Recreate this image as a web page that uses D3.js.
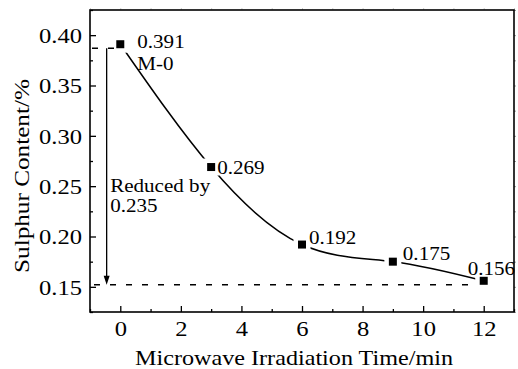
<!DOCTYPE html>
<html><head><meta charset="utf-8">
<script src="https://cdn.jsdelivr.net/npm/d3@7"></script>
<style>body{margin:0;background:#fff}</style></head>
<body>
<svg id="c" width="518" height="369"></svg>
<script>
// ---- data ----
const times   = [0, 3, 6, 9, 12];
const sulphur = [0.391, 0.269, 0.192, 0.175, 0.156];
const pointLabels = ["0.391", "0.269", "0.192", "0.175", "0.156"];
const xTicks = [0, 2, 4, 6, 8, 10, 12];
const xMinor = [-1, 1, 3, 5, 7, 9, 11, 13];
const yTicks = [0.15, 0.20, 0.25, 0.30, 0.35, 0.40];
const yMinor = [0.125, 0.175, 0.225, 0.275, 0.325, 0.375, 0.425];
const refTop = 0.387, refBottom = 0.152, arrowX = -0.45;
const sampleName = "M-0";
const noteLines = ["Reduced by", "0.235"];
const xTitle = "Microwave Irradiation Time/min";
const yTitle = "Sulphur Content/%";

// ---- layout ----
const svg = d3.select("#c");
const L = 90, R = 514, T = 10, B = 312;
const x = d3.scaleLinear().domain([-1, 13]).range([L, R]);
const y = d3.scaleLinear().domain([0.125, 0.425]).range([B, T]);
const FONT = '"Liberation Serif", "Times New Roman", serif';
const SX = 1.17;
function stretch(sel) {
  sel.each(function () {
    const w = this.getComputedTextLength();
    this.setAttribute("textLength", w * SX);
    this.setAttribute("lengthAdjust", "spacingAndGlyphs");
  });
}

// axes
const gx = svg.append("g").attr("transform", `translate(0,${B})`)
  .call(d3.axisBottom(x).tickValues(xTicks).tickFormat(d3.format("d"))
    .tickSizeInner(-6).tickSizeOuter(0).tickPadding(10));
gx.select(".domain").remove();
gx.selectAll("line").attr("stroke", "#000").attr("stroke-width", 1.3);
gx.selectAll("text").style("font-family", FONT).attr("font-size", 21)
  .attr("fill", "#000").attr("dy", 0).attr("y", 24).call(stretch);

const gxm = svg.append("g").attr("transform", `translate(0,${B})`)
  .call(d3.axisBottom(x).tickValues(xMinor).tickFormat("").tickSizeInner(-3).tickSizeOuter(0));
gxm.select(".domain").remove();
gxm.selectAll("line").attr("stroke", "#000").attr("stroke-width", 1.3);

const gy = svg.append("g").attr("transform", `translate(${L},0)`)
  .call(d3.axisLeft(y).tickValues(yTicks).tickFormat(d3.format(".2f"))
    .tickSizeInner(-6).tickSizeOuter(0).tickPadding(8));
gy.select(".domain").remove();
gy.selectAll("line").attr("stroke", "#000").attr("stroke-width", 1.3);
gy.selectAll("text").style("font-family", FONT).attr("font-size", 21)
  .attr("fill", "#000").attr("dy", "0.35em").call(stretch);

const gym = svg.append("g").attr("transform", `translate(${L},0)`)
  .call(d3.axisLeft(y).tickValues(yMinor).tickFormat("").tickSizeInner(-3).tickSizeOuter(0));
gym.select(".domain").remove();
gym.selectAll("line").attr("stroke", "#000").attr("stroke-width", 1.3);

// faint outer ticks on top/right
const gt = svg.append("g").attr("transform", `translate(0,${T})`)
  .call(d3.axisTop(x).tickValues(d3.range(-1, 14)).tickFormat("").tickSizeInner(2).tickSizeOuter(0));
gt.select(".domain").remove();
gt.selectAll("line").attr("stroke", "#ccc");
const gr = svg.append("g").attr("transform", `translate(${R},0)`)
  .call(d3.axisRight(y).tickValues(yTicks.concat(yMinor)).tickFormat("").tickSizeInner(2).tickSizeOuter(0));
gr.select(".domain").remove();
gr.selectAll("line").attr("stroke", "#999");

// frame
svg.append("rect").attr("x", L).attr("y", T).attr("width", R - L).attr("height", B - T)
  .attr("fill", "none").attr("stroke", "#000").attr("stroke-width", 1.6);

// curve
const pts = times.map((t, i) => [t, sulphur[i]]);
const line = d3.line().x(d => x(d[0])).y(d => y(d[1])).curve(d3.curveNatural);
svg.append("path").attr("d", line(pts)).attr("fill", "none")
  .attr("stroke", "#000").attr("stroke-width", 1.5);

// white pads (gaps around markers)
svg.selectAll("rect.pad").data(pts).join("rect").attr("class", "pad")
  .attr("x", d => x(d[0]) - 8.5).attr("y", d => y(d[1]) - 8.5)
  .attr("width", 17).attr("height", 17).attr("fill", "#fff");

// reference dashed lines
svg.append("line").attr("x1", L).attr("x2", x(0) - 4.5)
  .attr("y1", y(refTop)).attr("y2", y(refTop))
  .attr("stroke", "#000").attr("stroke-width", 1.4).attr("stroke-dasharray", "6,10").attr("stroke-dashoffset", -2);
svg.append("line").attr("x1", L).attr("x2", x(12) - 6)
  .attr("y1", y(refBottom)).attr("y2", y(refBottom))
  .attr("stroke", "#000").attr("stroke-width", 1.4).attr("stroke-dasharray", "6,10").attr("stroke-dashoffset", -4);

// arrow
const ax = x(arrowX);
svg.append("line").attr("x1", ax).attr("x2", ax).attr("y1", y(refTop)).attr("y2", y(refBottom) - 6)
  .attr("stroke", "#000").attr("stroke-width", 1.3);
svg.append("path")
  .attr("d", `M${ax - 3},${y(refBottom) - 9} L${ax + 3},${y(refBottom) - 9} L${ax},${y(refBottom)} Z`)
  .attr("fill", "#000");

// markers
svg.selectAll("rect.mk").data(pts).join("rect").attr("class", "mk")
  .attr("x", d => x(d[0]) - 4).attr("y", d => y(d[1]) - 4)
  .attr("width", 8).attr("height", 8).attr("fill", "#000");

// point labels
const labelOffsets = [[17, 4], [6, 7], [7, -1], [10, -2], [-16, -6]];
svg.selectAll("text.pl").data(pts).join("text").attr("class", "pl")
  .attr("x", (d, i) => x(d[0]) + labelOffsets[i][0])
  .attr("y", (d, i) => y(d[1]) + labelOffsets[i][1])
  .style("font-family", FONT).attr("font-size", 18).attr("fill", "#000")
  .text((d, i) => pointLabels[i]).call(stretch);

svg.append("text").attr("x", x(0) + 17).attr("y", y(sulphur[0]) + 26)
  .style("font-family", FONT).attr("font-size", 18).text(sampleName).call(stretch);

svg.selectAll("text.note").data(noteLines).join("text").attr("class", "note")
  .attr("x", ax + 3.5).attr("y", (d, i) => 191.5 + i * 20)
  .style("font-family", FONT).attr("font-size", 18).text(d => d).call(stretch);

// axis titles
svg.append("text").attr("x", (L + R) / 2 - 8).attr("y", 365).attr("text-anchor", "middle")
  .style("font-family", FONT).attr("font-size", 21).text(xTitle)
  .attr("textLength", 318).attr("lengthAdjust", "spacingAndGlyphs");
svg.append("text").attr("transform", `translate(29,${(T + B) / 2 + 15}) rotate(-90)`)
  .attr("text-anchor", "middle").style("font-family", FONT).attr("font-size", 21).text(yTitle)
  .attr("textLength", 194).attr("lengthAdjust", "spacingAndGlyphs");
</script>
</body></html>
